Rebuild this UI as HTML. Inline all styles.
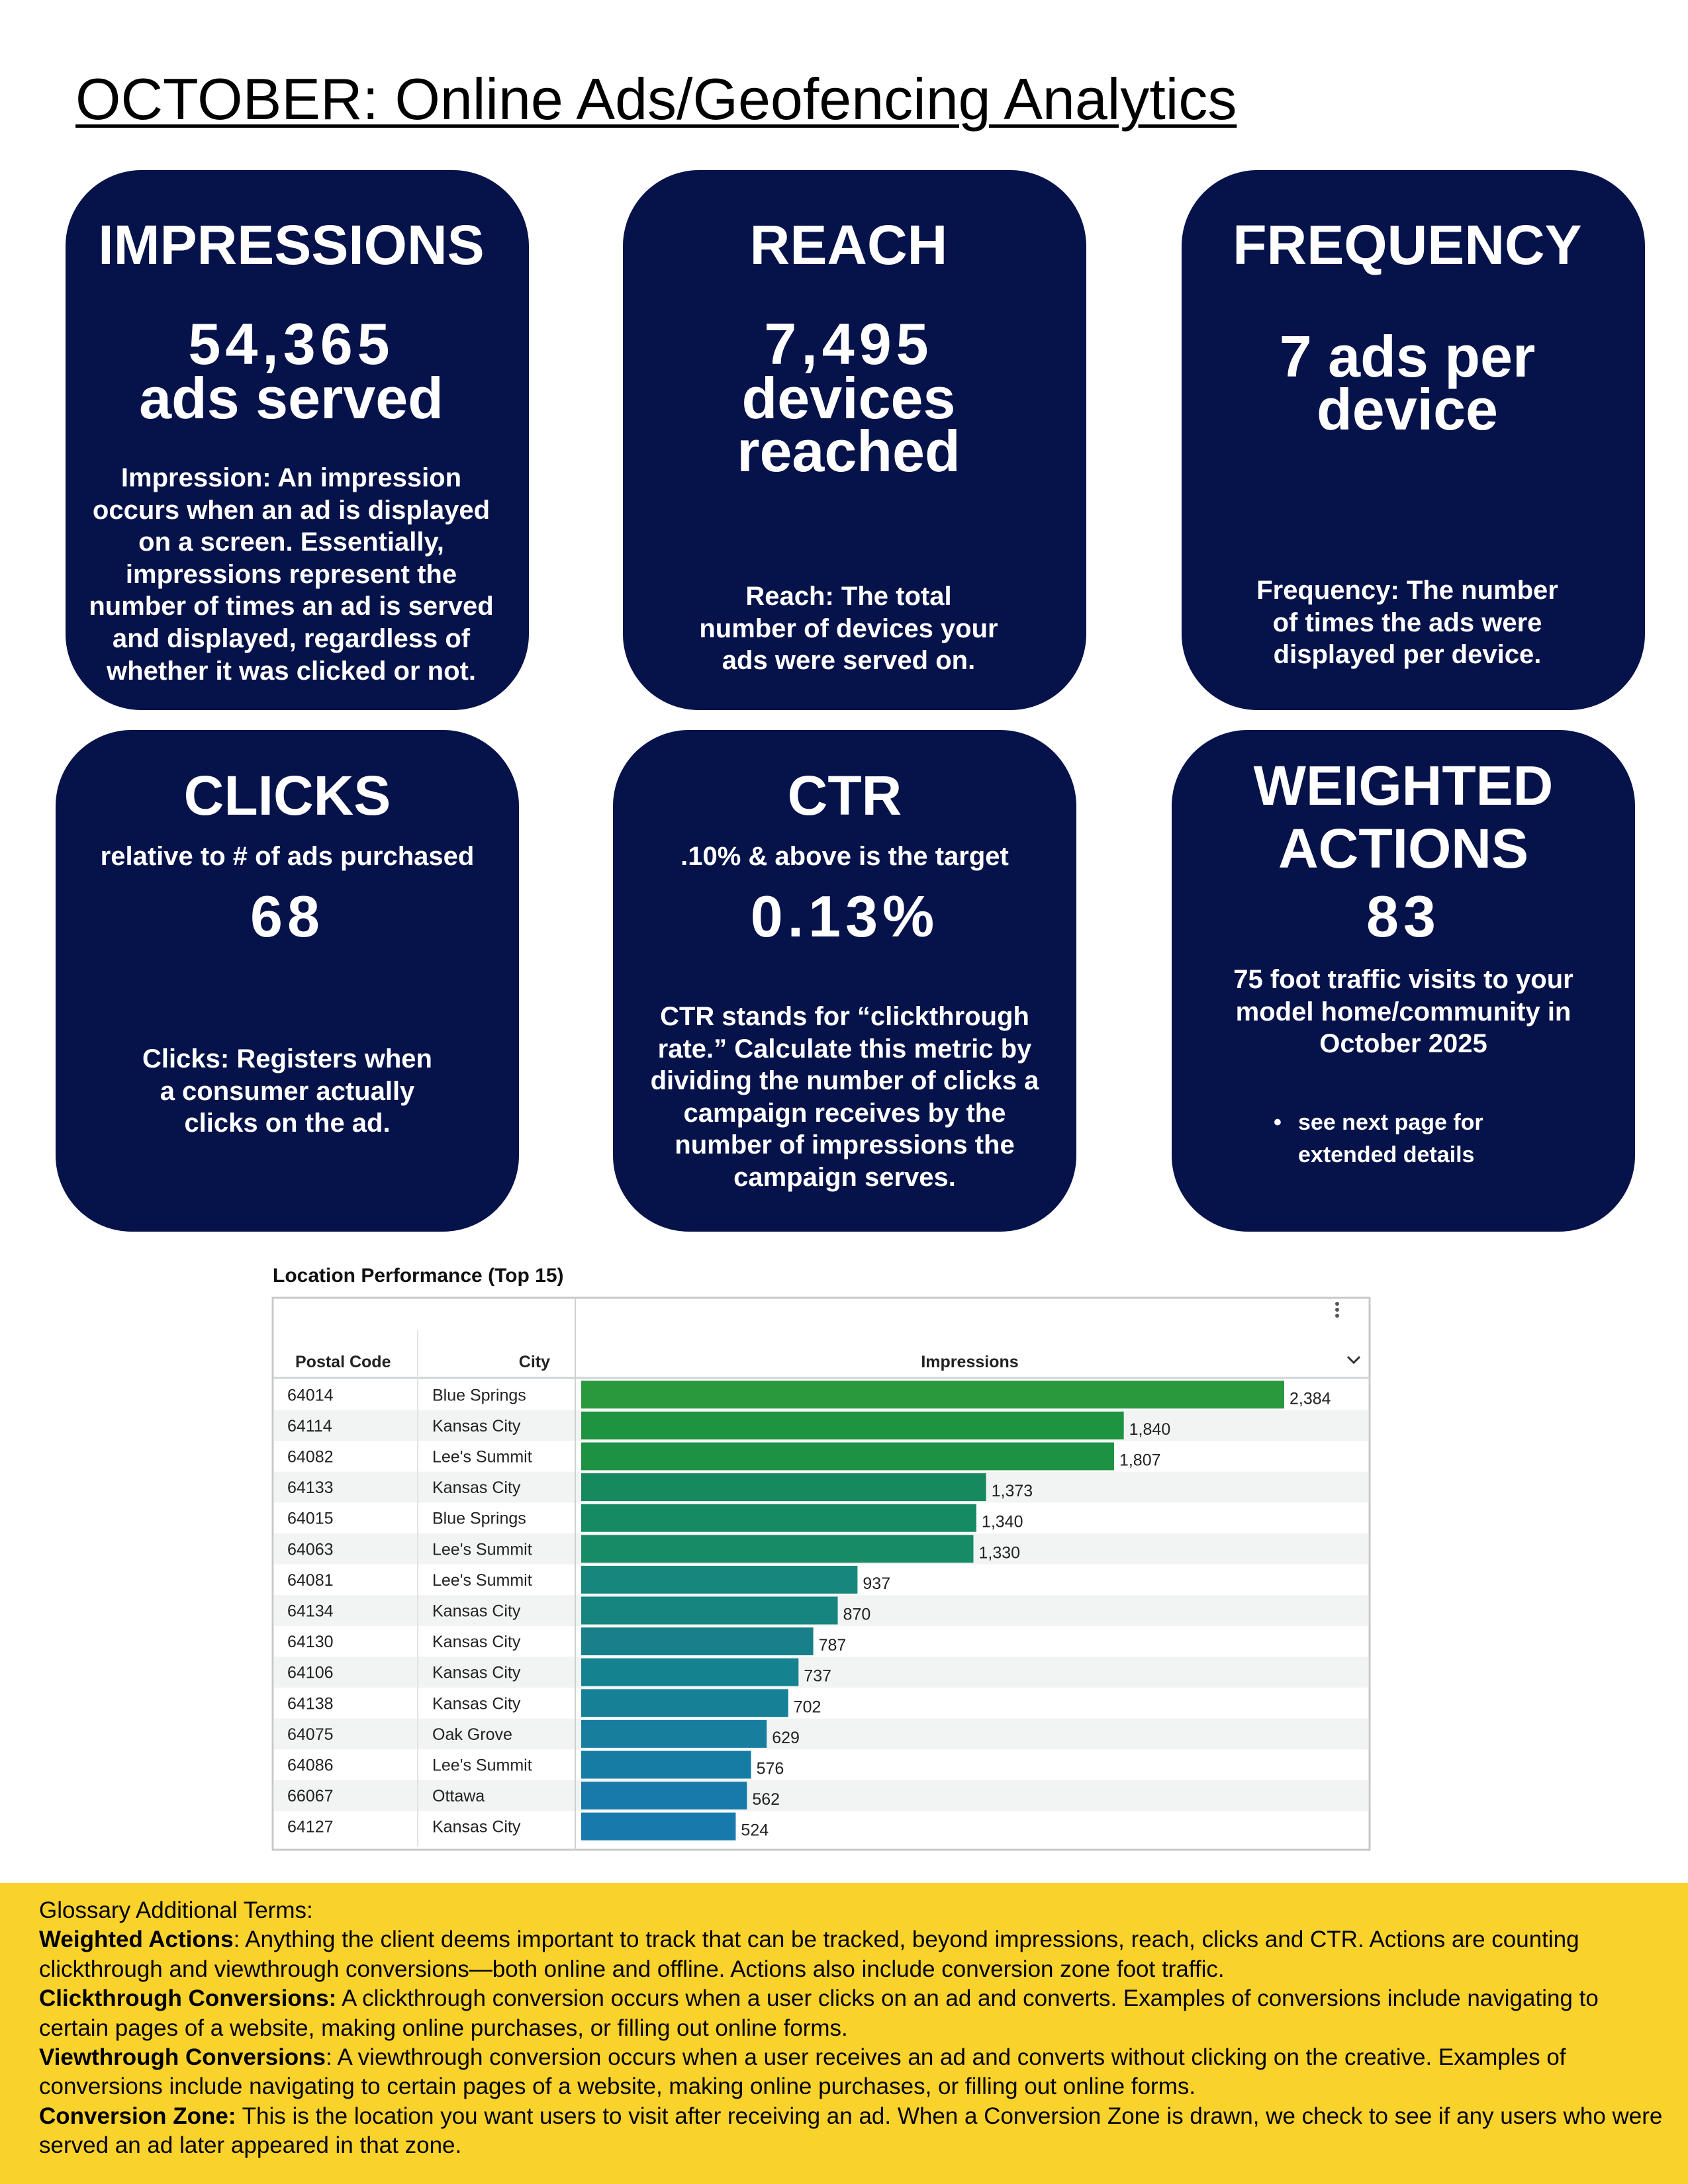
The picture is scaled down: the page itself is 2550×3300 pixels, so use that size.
<!DOCTYPE html>
<html><head><meta charset="utf-8">
<style>
*{margin:0;padding:0;box-sizing:border-box}
body{width:2550px;height:3300px;background:#fff;position:relative;overflow:hidden;font-family:"Liberation Sans",sans-serif}
.title{position:absolute;left:114px;top:98px;font-size:88px;line-height:104px;text-decoration:underline;text-decoration-thickness:5px;text-underline-offset:8px;color:#000;white-space:nowrap}
.card{position:absolute;width:700px;background:#06124a;border-radius:115px;color:#fff;font-weight:bold}
.l{position:absolute;left:0;right:0;text-align:center;white-space:nowrap}
.r1 .l{right:18px}
.h{font-size:84px;line-height:100px}
.n{font-size:88px;line-height:100px}
.num{letter-spacing:7px}
.s{font-size:40px;line-height:50px}
.d{font-size:40px;line-height:48.6px}
.chart-title{position:absolute;left:412px;top:1910px;font-size:30px;font-weight:bold;line-height:36px;color:#111}
.yellow{position:absolute;left:0;top:2845px;width:2550px;height:455px;background:#f9d22c;padding:20px 0 0 59px;font-size:35px;line-height:44.4px;color:#000;white-space:nowrap}
</style></head>
<body>
<div class="title">OCTOBER: Online Ads/Geofencing Analytics</div>

<div class="card r1" style="left:99px;top:257px;height:816px">
<div class="l h" style="top:63px">IMPRESSIONS</div>
<div class="l n num" style="top:213px">54,365</div>
<div class="l n" style="top:295px">ads served</div>
<div class="l d" style="top:441px">Impression: An impression<br>occurs when an ad is displayed<br>on a screen. Essentially,<br>impressions represent the<br>number of times an ad is served<br>and displayed, regardless of<br>whether it was clicked or not.</div>
</div>
<div class="card r1" style="left:941px;top:257px;height:816px">
<div class="l h" style="top:63px">REACH</div>
<div class="l n num" style="top:213px">7,495</div>
<div class="l n" style="top:295px">devices</div>
<div class="l n" style="top:375px">reached</div>
<div class="l d" style="top:620px">Reach: The total<br>number of devices your<br>ads were served on.</div>
</div>
<div class="card r1" style="left:1785px;top:257px;height:816px">
<div class="l h" style="top:63px">FREQUENCY</div>
<div class="l n" style="top:232px">7 ads per</div>
<div class="l n" style="top:312px">device</div>
<div class="l d" style="top:611px">Frequency: The number<br>of times the ads were<br>displayed per device.</div>
</div>

<div class="card" style="left:84px;top:1103px;height:758px">
<div class="l h" style="top:49px">CLICKS</div>
<div class="l s" style="top:166px">relative to # of ads purchased</div>
<div class="l n num" style="top:232px">68</div>
<div class="l d" style="top:473px">Clicks: Registers when<br>a consumer actually<br>clicks on the ad.</div>
</div>
<div class="card" style="left:926px;top:1103px;height:758px">
<div class="l h" style="top:49px">CTR</div>
<div class="l s" style="top:166px">.10% &amp; above is the target</div>
<div class="l n num" style="top:232px">0.13%</div>
<div class="l d" style="top:409px">CTR stands for “clickthrough<br>rate.” Calculate this metric by<br>dividing the number of clicks a<br>campaign receives by the<br>number of impressions the<br>campaign serves.</div>
</div>
<div class="card" style="left:1770px;top:1103px;height:758px">
<div class="l h" style="top:34px">WEIGHTED</div>
<div class="l h" style="top:129px">ACTIONS</div>
<div class="l n num" style="top:232px">83</div>
<div class="l d" style="top:353px;font-size:40px">75 foot traffic visits to your<br>model home/community in<br>October 2025</div>
<div style="position:absolute;left:154px;top:569px;font-size:34px;line-height:49px">•</div>
<div style="position:absolute;left:191px;top:569px;font-size:34px;line-height:49px;white-space:nowrap">see next page for<br>extended details</div>
</div>

<div class="chart-title">Location Performance (Top 15)</div>
<svg id="chart" style="position:absolute;left:0;top:0" width="2550" height="2845"></svg>

<div class="yellow">
Glossary Additional Terms:<br>
<b>Weighted Actions</b>: Anything the client deems important to track that can be tracked, beyond impressions, reach, clicks and CTR. Actions are counting<br>
clickthrough and viewthrough conversions—both online and offline. Actions also include conversion zone foot traffic.<br>
<b>Clickthrough Conversions:</b> A clickthrough conversion occurs when a user clicks on an ad and converts. Examples of conversions include navigating to<br>
certain pages of a website, making online purchases, or filling out online forms.<br>
<b>Viewthrough Conversions</b>: A viewthrough conversion occurs when a user receives an ad and converts without clicking on the creative. Examples of<br>
conversions include navigating to certain pages of a website, making online purchases, or filling out online forms.<br>
<b>Conversion Zone:</b> This is the location you want users to visit after receiving an ad. When a Conversion Zone is drawn, we check to see if any users who were<br>
served an ad later appeared in that zone.
</div>

<script>
const postalCodes=["64014","64114","64082","64133","64015","64063","64081","64134","64130","64106","64138","64075","64086","66067","64127"];
const cities=["Blue Springs","Kansas City","Lee's Summit","Kansas City","Blue Springs","Lee's Summit","Lee's Summit","Kansas City","Kansas City","Kansas City","Kansas City","Oak Grove","Lee's Summit","Ottawa","Kansas City"];
const impressions=[2384,1840,1807,1373,1340,1330,937,870,787,737,702,629,576,562,524];
const barColors=["#2a983c","#1f9440","#1c9242","#168a5e","#168a62","#178a66","#16877a","#168580","#19808a","#15838f","#168097","#177e9e","#177ca4","#177aa8","#1779ac"];

const svg=document.getElementById('chart');
const NS='http://www.w3.org/2000/svg';
function mk(tag,attrs,txt){const e=document.createElementNS(NS,tag);for(const k in attrs)e.setAttribute(k,attrs[k]);if(txt!==undefined)e.textContent=txt;svg.appendChild(e);return e;}
const boxL=412,boxR=2069,boxT=1961,boxB=2795;
const rowTop=2084,rowH=46.6,barH=42;
const x0=878,pxPer=(1940-878)/2384;
const xScale=v=>x0+v*pxPer;
const yRow=i=>rowTop+i*rowH;

let e;
e=mk('rect',{x:boxL,y:boxT,width:boxR-boxL,height:boxB-boxT,fill:'#fff',stroke:'#c8c8c8','stroke-width':3});


for(let i=0;i<impressions.length;i++){
  if(i%2===1){
    e=mk('rect',{x:boxL+2,y:yRow(i),width:boxR-boxL-4,height:rowH,fill:'#f2f3f3'});
    
    
  }
}
e=mk('line',{x1:boxL,x2:boxR,y1:2082,y2:2082,stroke:'#cfd4d8','stroke-width':3});


e=mk('line',{x1:631,x2:631,y1:2010,y2:2790,stroke:'#e2e2e2','stroke-width':2});


e=mk('line',{x1:869,x2:869,y1:boxT,y2:boxB,stroke:'#d0d0d0','stroke-width':2});



e=mk('text',{x:446,y:2066,'font-size':25,'font-weight':'bold',fill:'#222','font-family':'Liberation Sans'},'Postal Code');


e=mk('text',{x:831,y:2066,'font-size':25,'font-weight':'bold',fill:'#222','text-anchor':'end','font-family':'Liberation Sans'},'City');


e=mk('text',{x:1465,y:2066,'font-size':25,'font-weight':'bold',fill:'#222','text-anchor':'middle','font-family':'Liberation Sans'},'Impressions');


e=mk('path',{d:'M2036 2050 L2045 2059 L2054 2050',fill:'none',stroke:'#333','stroke-width':3});


for(let k=0;k<3;k++){
  e=mk('circle',{cx:2020,cy:1970+k*9,r:3,fill:'#555'});
  
  
}

for(let i=0;i<impressions.length;i++){
  const yc=yRow(i)+rowH/2;
  e=mk('text',{x:434,y:yc+9,'font-size':25,fill:'#222','font-family':'Liberation Sans'},postalCodes[i]);
  
  
  e=mk('text',{x:653,y:yc+9,'font-size':25,fill:'#222','font-family':'Liberation Sans'},cities[i]);
  
  
  e=mk('rect',{x:x0,y:yc-barH/2,width:xScale(impressions[i])-x0,height:barH,fill:barColors[i]});
  
  
  e=mk('text',{x:xScale(impressions[i])+8,y:yc+14,'font-size':25,fill:'#222','font-family':'Liberation Sans'},impressions[i].toLocaleString('en-US'));
  
  
}
</script>
</body></html>
